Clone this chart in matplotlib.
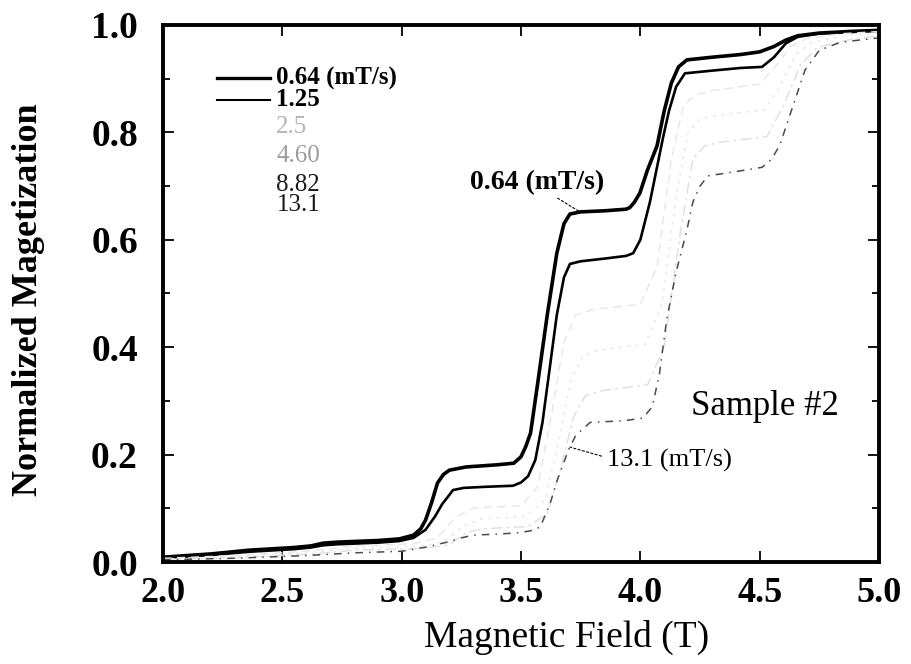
import matplotlib
matplotlib.use("Agg")
import matplotlib.pyplot as plt
from matplotlib.ticker import MultipleLocator

plt.rcParams['font.family'] = ['Liberation Serif', 'DejaVu Serif']

# Sweep rates (mT/s)
rates = ["0.64", "1.25", "2.5", "4.60", "8.82", "13.1"]

# Curves: field (T) and normalized magnetization
x_064 = [2.0, 2.2, 2.36, 2.55, 2.62, 2.67, 2.73, 2.9, 2.99, 3.05, 3.08, 3.1, 3.125, 3.15, 3.175, 3.2, 3.27, 3.4, 3.47,
         3.5, 3.52, 3.54, 3.57, 3.61, 3.65, 3.68, 3.705, 3.75, 3.85, 3.94, 3.956, 3.975, 3.998, 4.03, 4.07, 4.10, 4.13,
         4.16, 4.195, 4.3, 4.42, 4.50, 4.56, 4.61, 4.66, 4.75, 4.88, 5.0]
y_064 = [0.009, 0.015, 0.022, 0.027, 0.030, 0.035, 0.037, 0.040, 0.043, 0.050, 0.062, 0.078, 0.110, 0.147, 0.163,
         0.171, 0.177, 0.181, 0.184, 0.196, 0.215, 0.240, 0.333, 0.460, 0.575, 0.630, 0.648, 0.652, 0.654, 0.657,
         0.660, 0.670, 0.687, 0.730, 0.775, 0.840, 0.892, 0.922, 0.935, 0.940, 0.945, 0.950, 0.960, 0.972, 0.980,
         0.985, 0.988, 0.990]

x_125 = [2.0, 2.2, 2.36, 2.55, 2.62, 2.67, 2.73, 2.9, 2.99, 3.05, 3.1, 3.14, 3.17, 3.2, 3.215, 3.26, 3.35, 3.466,
         3.5, 3.53, 3.56, 3.59, 3.62, 3.65, 3.68, 3.705, 3.75, 3.85, 3.94, 3.97, 4.0, 4.04, 4.095, 4.12, 4.15, 4.187,
         4.3, 4.42, 4.51, 4.56, 4.61, 4.66, 4.75, 4.88, 5.0]
y_125 = [0.008, 0.013, 0.019, 0.024, 0.027, 0.031, 0.033, 0.036, 0.039, 0.045, 0.060, 0.085, 0.108, 0.125, 0.134,
         0.138, 0.140, 0.142, 0.148, 0.160, 0.190, 0.260, 0.360, 0.460, 0.530, 0.555, 0.560, 0.565, 0.570, 0.575,
         0.600, 0.670, 0.790, 0.840, 0.885, 0.910, 0.915, 0.920, 0.922, 0.940, 0.966, 0.978, 0.984, 0.987, 0.990]

x_250 = [2.0, 2.3, 2.6, 2.8, 3.05, 3.15, 3.23, 3.3, 3.5, 3.57, 3.63, 3.68, 3.73, 3.8, 4.0, 4.07, 4.13, 4.18, 4.23,
         4.3, 4.5, 4.57, 4.63, 4.7, 4.85, 5.0]
y_250 = [0.007, 0.012, 0.020, 0.030, 0.034, 0.045, 0.085, 0.100, 0.105, 0.140, 0.280, 0.410, 0.460, 0.470, 0.480,
         0.550, 0.750, 0.850, 0.870, 0.878, 0.890, 0.925, 0.960, 0.975, 0.984, 0.988]

x_460 = [2.0, 2.3, 2.6, 2.8, 3.07, 3.18, 3.26, 3.33, 3.52, 3.6, 3.66, 3.71, 3.76, 3.83, 4.02, 4.09, 4.15, 4.2, 4.25,
         4.32, 4.52, 4.59, 4.65, 4.72, 4.86, 5.0]
y_460 = [0.006, 0.010, 0.017, 0.026, 0.029, 0.038, 0.068, 0.080, 0.085, 0.115, 0.230, 0.340, 0.385, 0.395, 0.405,
         0.480, 0.680, 0.800, 0.825, 0.832, 0.842, 0.890, 0.945, 0.968, 0.980, 0.985]

x_882 = [2.0, 2.3, 2.6, 2.8, 3.08, 3.2, 3.27, 3.34, 3.53, 3.61, 3.67, 3.72, 3.77, 3.85, 4.03, 4.1, 4.17, 4.22, 4.27,
         4.34, 4.53, 4.6, 4.67, 4.74, 4.87, 5.0]
y_882 = [0.005, 0.008, 0.014, 0.022, 0.025, 0.032, 0.055, 0.062, 0.066, 0.090, 0.180, 0.270, 0.310, 0.320, 0.330,
         0.400, 0.620, 0.750, 0.775, 0.782, 0.792, 0.850, 0.925, 0.958, 0.972, 0.980]

x_131 = [2.0, 2.3, 2.6, 2.8, 3.0, 3.105, 3.2, 3.25, 3.30, 3.4, 3.48, 3.54, 3.58, 3.62, 3.65, 3.675, 3.70, 3.73, 3.79,
         3.93, 4.01, 4.05, 4.08, 4.11, 4.15, 4.195, 4.22, 4.25, 4.283, 4.4, 4.51, 4.55, 4.585, 4.64, 4.69, 4.75, 4.84,
         5.0]
y_131 = [0.004, 0.007, 0.012, 0.017, 0.020, 0.028, 0.038, 0.045, 0.050, 0.052, 0.054, 0.058, 0.065, 0.106, 0.150,
         0.180, 0.210, 0.236, 0.260, 0.263, 0.268, 0.289, 0.350, 0.450, 0.540, 0.618, 0.670, 0.700, 0.719, 0.727,
         0.735, 0.750, 0.777, 0.850, 0.916, 0.953, 0.968, 0.976]

curves = [(x_064, y_064), (x_125, y_125), (x_250, y_250), (x_460, y_460), (x_882, y_882), (x_131, y_131)]
styles = [dict(color='black', lw=2.6, ls='-'),
          dict(color='black', lw=1.9, ls='-'),
          dict(color='#e6e6e6', lw=1.0, ls=(0, (6, 4))),
          dict(color='#e6e6e6', lw=1.0, ls=(0, (2, 4))),
          dict(color='#dedede', lw=1.0, ls=(0, (8, 3, 2, 3))),
          dict(color='#4a4a4a', lw=1.1, ls=(0, (5, 4, 1, 4)))]

fig = plt.figure(figsize=(9.11, 6.64), dpi=100)
ax = fig.add_axes([163 / 911, 1 - 562 / 664, 716 / 911, 537 / 664])

for (xs, ys), st in zip(curves, styles):
    ax.plot(xs, ys, **st)

ax.set_xlim(2.0, 5.0)
ax.set_ylim(0.0, 1.0)
ax.set_xticks([2.0, 2.5, 3.0, 3.5, 4.0, 4.5, 5.0])
ax.set_xticklabels(["2.0", "2.5", "3.0", "3.5", "4.0", "4.5", "5.0"], fontweight='bold', fontsize=26)
ax.set_yticks([0.0, 0.2, 0.4, 0.6, 0.8, 1.0])
ax.set_yticklabels(["0.0", "0.2", "0.4", "0.6", "0.8", "1.0"], fontweight='bold', fontsize=27)
ax.yaxis.set_minor_locator(MultipleLocator(0.1))
ax.tick_params(which='both', direction='in', top=True, right=True, width=1.3)
ax.tick_params(which='major', length=8)
ax.tick_params(which='minor', length=5)
ax.tick_params(axis='y', which='major', pad=18)
ax.tick_params(axis='x', which='major', pad=11)
for s in ax.spines.values():
    s.set_linewidth(2.8)

ax.set_xlabel("Magnetic Field (T)", fontsize=27, va='center')
ax.xaxis.set_label_coords(0.564, -0.140)
ax.set_ylabel("Normalized Magetization", fontsize=26, fontweight='bold', va='center')
ax.yaxis.set_label_coords(-0.1885, 0.488)

# legend drawn manually (rows grouped to keep the tight spacing of the original)
ax.plot([2.226, 2.448], [0.901, 0.901], color='black', lw=2.4)
ax.plot([2.226, 2.448], [0.860, 0.860], color='black', lw=1.5)
ax.text(2.475, 0.8805, rates[0] + " (mT/s)\n" + rates[1], fontsize=18, fontweight='bold',
        va='center', ha='left', linespacing=0.86, color='black')
ax.text(2.475, 0.810, rates[2], fontsize=18, va='center', ha='left', color='#b4b4b4')
ax.text(2.475, 0.756, rates[3], fontsize=18, va='center', ha='left', color='#9c9c9c')
ax.text(2.475, 0.684, rates[4] + "\n" + rates[5], fontsize=18, va='center', ha='left',
        linespacing=0.9, color='#1a1a1a')

ax.annotate("0.64 (mT/s)", xy=(3.747, 0.652), xytext=(3.286, 0.706), fontsize=20, fontweight='bold',
            ha='left', va='center',
            arrowprops=dict(arrowstyle='-', color='black', lw=0.8, ls=(0, (2, 2)), shrinkA=0, shrinkB=0,
                            relpos=(0.62, 0.0)))
ax.annotate("13.1 (mT/s)", xy=(3.705, 0.214), xytext=(3.86, 0.19), fontsize=19,
            ha='left', va='center',
            arrowprops=dict(arrowstyle='-', color='black', lw=0.8, ls=(0, (2, 2)), shrinkA=2, shrinkB=0,
                            relpos=(0.0, 0.6)))
ax.text(4.52, 0.289, "Sample #2", fontsize=25, ha='center', va='center')

fig.savefig("out.png", dpi=100)
